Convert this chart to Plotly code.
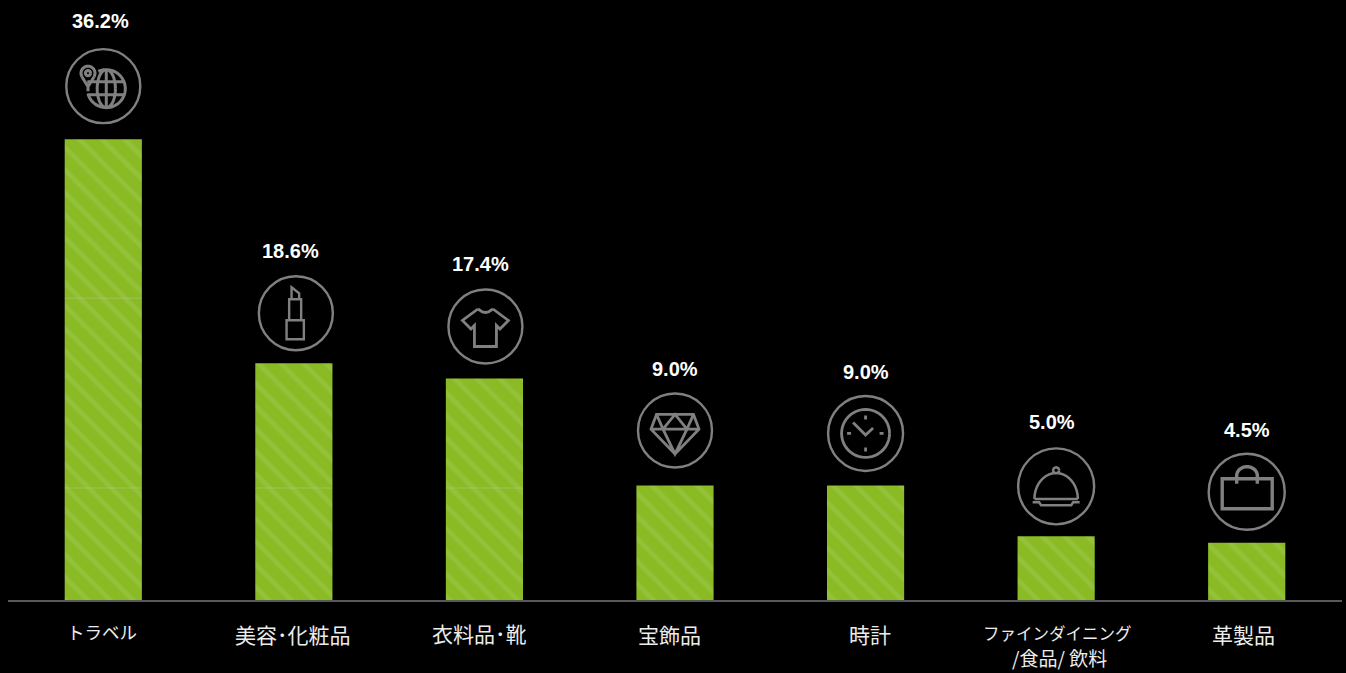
import math
import plotly.graph_objects as go

# Share of responses by spending category
categories = ["トラベル", "美容･化粧品", "衣料品･靴", "宝飾品", "時計", "ファインダイニング", "革製品"]
category_second_lines = ["", "", "", "", "", "/食品/ 飲料", ""]
shares = [36.2, 18.6, 17.4, 9.0, 9.0, 5.0, 4.5]
share_labels = ["36.2%", "18.6%", "17.4%", "9.0%", "9.0%", "5.0%", "4.5%"]

# Faint rules that run across the taller bars
rule_levels = [23.7, 8.8]

# Placement offsets in pixels, relative to each bar's centre and top
label_dx = [-3, -3, -4, 0, 0, -4, 0]
label_dy = [118, 112, 115, 116, 113, 114, 113]
icon_dx = [0, 2, 1, 0, 0, 0, 0]
icon_dy = [53, 50, 52, 55, 52, 50, 51]
tick_dx = [-1, -1, -5, -6, 4, 1, -3]
tick_dy = [31, 34, 33, 34, 34, 33, 34]
tick_size = [17.5, 21, 21, 21, 21, 16.5, 21]

BAR_WIDTH = 0.405
PX_PER_UNIT = 12.73
ICON_GREY = "#808080"


def arc(cx, cy, rx, ry, start, end, steps=48):
    """Polyline path along an ellipse; angles in degrees, y grows downward."""
    parts = []
    for k in range(steps + 1):
        t = math.radians(start + (end - start) * k / steps)
        cmd = "M" if k == 0 else "L"
        parts.append(f"{cmd}{cx + rx * math.cos(t):.2f},{-(cy + ry * math.sin(t)):.2f}")
    return " ".join(parts)


def poly(points, closed=False):
    """Polyline path through points given with y growing downward."""
    body = " ".join(("M" if k == 0 else "L") + f"{x:.2f},{-y:.2f}" for k, (x, y) in enumerate(points))
    return body + (" Z" if closed else "")


def globe_icon():
    cx, cy, r = 3, 2.5, 19
    return " ".join([
        arc(cx, cy, r, r, -115, 165),
        arc(cx, cy, r * 0.48, r, 0, 360),
        poly([(cx, cy - r), (cx, cy + r)]),
        poly([(cx - r, cy - 7), (cx + r, cy - 7)]),
        poly([(cx - r, cy + 6), (cx + r, cy + 6)]),
        arc(-15.3, -13, 7, 7, 150, 390),
        poly([(-21.4, -9.5), (-15.3, 0.5), (-9.2, -9.5)]),
        arc(-15.3, -13, 2.6, 2.6, 0, 360, steps=16),
        poly([(-15.3, 0.5), (-15.3, 5)]),
    ])


def lipstick_icon():
    return " ".join([
        poly([(-9.3, 7), (8, 7), (8, 26), (-9.3, 26)], closed=True),
        poly([(-6.7, 7), (-6.7, -14), (5.3, -14), (5.3, 7)]),
        poly([(-4.3, -14), (-4.3, -26), (3.3, -20), (3.3, -14)]),
    ])


def shirt_icon():
    outline = [(-7.5, -17.5), (-23, -6), (-14.5, 2.5), (-11, -1), (-11, 20), (11, 20),
               (11, -1), (14.5, 2.5), (23, -6), (7.5, -17.5)]
    collar = [(-7.5, -17.5), (-3, -14.5), (0, -14), (3, -14.5), (7.5, -17.5)]
    return poly(outline) + " " + poly(collar)


def diamond_icon():
    t, g, b = -16, -1.3, 23.5
    return " ".join([
        poly([(-18.5, t), (18.5, t), (24, g), (0, b), (-24, g)], closed=True),
        poly([(-24, g), (24, g)]),
        poly([(-18.5, t), (-12, g), (0, t), (12, g), (18.5, t)]),
        poly([(-12, g), (0, b), (12, g)]),
    ])


def clock_icon():
    return " ".join([
        arc(0, 0, 24, 24, 0, 360),
        poly([(-12.5, -11), (0, 1.5), (7.5, -5.5)]),
        poly([(0, -18), (0, -14)]),
        poly([(0, 14), (0, 18)]),
        poly([(-18.5, 0), (-14.5, 0)]),
        poly([(14, 0), (18, 0)]),
    ])


def cloche_icon():
    return " ".join([
        arc(0, 12.7, 21.7, 26, 180, 360),
        poly([(-21.7, 12.7), (21.7, 12.7)]),
        arc(0, -16, 3, 3, 0, 360, steps=16),
        poly([(-23.5, 16), (-17, 16), (-15, 19), (15, 19), (17, 16), (23.5, 16)]),
    ])


def bag_icon():
    return " ".join([
        poly([(-24.5, -13), (25.5, -13), (25.5, 17), (-24.5, 17)], closed=True),
        poly([(-10, -8), (-10, -16)]),
        arc(0.3, -16, 10.3, 9, 180, 360),
        poly([(10.6, -16), (10.6, -8)]),
    ])


icons = [globe_icon(), lipstick_icon(), shirt_icon(), diamond_icon(), clock_icon(), cloche_icon(), bag_icon()]
icon_radius = [37, 37, 37, 37, 37.5, 38, 38]
icon_stroke = [3, 2.4, 2.8, 2.8, 2.8, 2.5, 3.4]

positions = list(range(len(categories)))

fig = go.Figure(
    go.Bar(
        x=positions,
        y=shares,
        width=BAR_WIDTH,
        marker=dict(
            color="#8abb24",
            line_width=0,
            pattern=dict(shape="\\", bgcolor="#8abb24", fgcolor="#9cc74e", size=16, solidity=0.3),
        ),
        hoverinfo="skip",
    )
)

shapes = []

# Icon badge above each bar: a ring plus a glyph, sized in pixels and anchored to the bar top
for i, value in enumerate(shares):
    r = icon_radius[i]
    cy = icon_dy[i]
    shapes.append(dict(
        type="circle", xref="x", yref="y", xsizemode="pixel", ysizemode="pixel",
        xanchor=i, yanchor=value, layer="above",
        x0=icon_dx[i] - r, x1=icon_dx[i] + r, y0=cy - r, y1=cy + r,
        line=dict(color=ICON_GREY, width=2.4),
    ))
    shapes.append(dict(
        type="path", xref="x", yref="y", xsizemode="pixel", ysizemode="pixel",
        xanchor=i + icon_dx[i] * 7 / 1334, yanchor=value + cy / PX_PER_UNIT, layer="above",
        path=icons[i],
        line=dict(color=ICON_GREY, width=icon_stroke[i]),
    ))

# Faint rules drawn only across bars that clearly exceed the level
for level in rule_levels:
    for i, value in enumerate(shares):
        if value > level + 1:
            shapes.append(dict(
                type="line", xref="x", yref="y", layer="above",
                x0=i - BAR_WIDTH / 2, x1=i + BAR_WIDTH / 2, y0=level, y1=level,
                line=dict(color="rgba(190,200,170,0.28)", width=1.5),
            ))

annotations = []
for i, value in enumerate(shares):
    annotations.append(dict(
        x=i, y=value, xref="x", yref="y", text=f"<b>{share_labels[i]}</b>", showarrow=False,
        xshift=label_dx[i], yshift=label_dy[i],
        xanchor="center", yanchor="middle",
        font=dict(family="Liberation Sans", size=20, color="#ffffff"),
    ))
    annotations.append(dict(
        x=i, y=0, xref="x", yref="y", text=categories[i], showarrow=False,
        xshift=tick_dx[i], yshift=-tick_dy[i],
        xanchor="center", yanchor="middle",
        font=dict(family="Noto Sans CJK JP", size=tick_size[i], color="#ececec"),
    ))
    if category_second_lines[i]:
        annotations.append(dict(
            x=i, y=0, xref="x", yref="y", text=category_second_lines[i], showarrow=False,
            xshift=tick_dx[i] + 2, yshift=-tick_dy[i] - 24, borderpad=0,
            xanchor="center", yanchor="middle",
            font=dict(family="Noto Sans CJK JP", size=19, color="#ececec"),
        ))

fig.update_layout(
    width=1346,
    height=673,
    margin=dict(l=8, r=4, t=0, b=73),
    paper_bgcolor="#000000",
    plot_bgcolor="#000000",
    showlegend=False,
    shapes=shapes,
    annotations=annotations,
    xaxis=dict(
        range=[-0.5, 6.5], showgrid=False, zeroline=False, showticklabels=False,
        ticks="", showline=True, linecolor="#595959", linewidth=2,
    ),
    yaxis=dict(range=[0, 600 / PX_PER_UNIT], visible=False, showgrid=False, zeroline=False),
)

fig.write_html("out.html", config=dict(displayModeBar=False))
